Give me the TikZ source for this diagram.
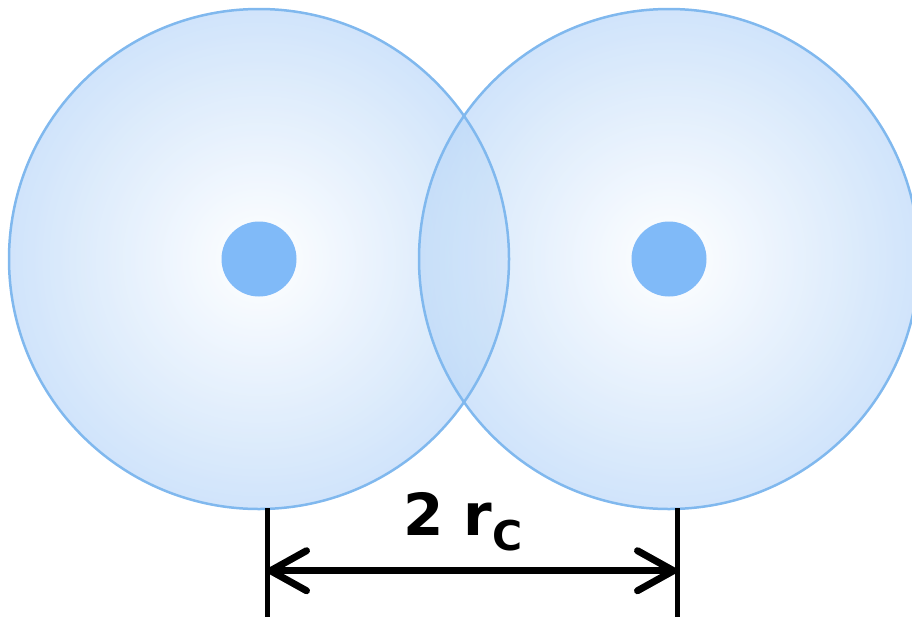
\documentclass[tikz,border=0pt]{standalone}
\usepackage{fontspec}
\setmainfont{DejaVu Sans}
\usetikzlibrary{arrows.meta,positioning,calc}
\definecolor{ballblue}{RGB}{125,180,242}
\definecolor{rimblue}{RGB}{128,184,238}
\definecolor{coreblue}{RGB}{128,186,248}
\pgfdeclareradialshading{ball}{\pgfpoint{0bp}{0bp}}{color(0bp)=(white); color(5bp)=(white!90!ballblue); color(50bp)=(ballblue); color(70bp)=(ballblue)}

\begin{document}
\begin{tikzpicture}[
  x=1pt, y=-1pt,
  sphere/.style={circle, shading=ball, fill opacity=0.72,
                 minimum size=500pt, inner sep=0pt},
  rim/.style={circle, draw=rimblue, line width=2.5pt,
              minimum size=500pt, inner sep=0pt},
  core/.style={circle, fill=coreblue, minimum size=75pt, inner sep=0pt},
  dimline/.style={line width=5pt},
  dimarrow/.style={line width=7pt,
                   {Straight Barb[round,length=36pt,width=40pt]}-{Straight Barb[round,length=36pt,width=40pt]}}
]
\useasboundingbox (0,0) rectangle (912,616);

%% Two overlapping spheres with their centres
\foreach \i/\x in {1/259, 2/669}{
  \node[sphere] (s\i) at (\x,259) {};
}
\foreach \i in {1,2}{
  \node[rim] (r\i) at (s\i) {};
  \node[core] (c\i) at (s\i) {};
}

%% Dimension lines
\coordinate (t1) at ($(c1)+(8,249)$);
\coordinate (t2) at ($(c2)+(8,249)$);
\coordinate (b1) at ($(t1)+(0,112)$);
\coordinate (b2) at ($(t2)+(0,112)$);
\draw[dimline] (t1) -- (b1);
\draw[dimline] (t2) -- (b2);

\coordinate (a1) at ($(t1)!0.56!(b1)$);
\coordinate (a2) at ($(t2)!0.56!(b2)$);
\draw[dimarrow] (a1) -- (a2);

%% Label
\node[anchor=base, font=\fontsize{58}{58}\selectfont\bfseries, inner sep=0pt]
  (lbl) at (463,535) {2 r\raisebox{-15pt}{\fontsize{41}{41}\selectfont C}};

\end{tikzpicture}
\end{document}
